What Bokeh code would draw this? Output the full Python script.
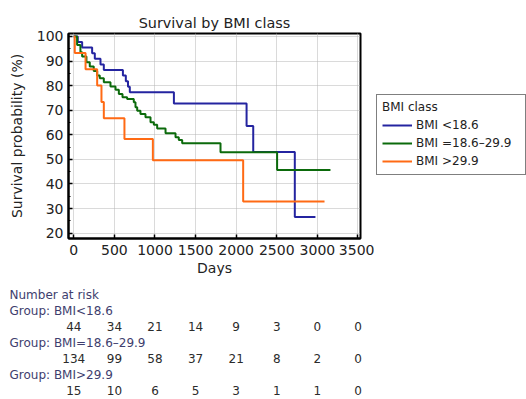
from bokeh.plotting import figure
from bokeh.models import Range1d, FixedTicker, Legend, LegendItem
from bokeh.layouts import column, row
from bokeh.embed import file_html
from bokeh.resources import INLINE
from bokeh.core.properties import value

# ---------------- data ----------------
# Kaplan-Meier curves (days, survival %)
days_lt = [0, 49, 103, 226, 259, 329, 370, 605, 641, 668, 690, 1233, 2128, 2210, 2722, 2976]
surv_lt = [100, 97.7, 95.5, 93.2, 90.9, 88.6, 86.4, 84.1, 81.8, 79.5, 77.3, 72.7, 63.6, 53.0, 26.5, 26.5]

days_mid = [0, 41, 82, 103, 156, 197, 246, 288, 320, 370, 452, 514, 555, 600, 657, 739, 760, 781,
            821, 883, 945, 986, 1027, 1130, 1253, 1293, 1335, 1807, 2504, 3161]
surv_mid = [100, 96.5, 93.6, 91.8, 89.5, 87.8, 85.9, 84.1, 83.0, 81.4, 79.6, 78.3, 76.6, 75.3, 74.6,
            73.2, 71.2, 69.8, 68.5, 67.1, 65.1, 64.1, 62.6, 60.6, 59.0, 57.9, 56.5, 52.9, 45.7, 45.7]

days_gt = [0, 12, 145, 288, 341, 370, 624, 974, 2086, 3088]
surv_gt = [100, 93.3, 86.7, 80.0, 73.3, 66.7, 58.3, 49.6, 32.9, 32.9]

legend_labels = ["BMI <18.6", "BMI =18.6\u201329.9", "BMI >29.9"]
group_names = ["BMI<18.6", "BMI=18.6\u201329.9", "BMI>29.9"]
colors = ["#2424a0", "#0b6a0b", "#ff6a14"]

# Number at risk
risk_days = [0, 500, 1000, 1500, 2000, 2500, 3000, 3500]
risk_lt = [44, 34, 21, 14, 9, 3, 0, 0]
risk_mid = [134, 99, 58, 37, 21, 8, 2, 0]
risk_gt = [15, 10, 6, 5, 3, 1, 1, 0]

x_ticks = [0, 500, 1000, 1500, 2000, 2500, 3000, 3500]
y_ticks = [20, 30, 40, 50, 60, 70, 80, 90, 100]

FONT = "DejaVu Sans"
TXT = "#222222"

# ---------------- layout geometry (px) ----------------
W_TOTAL = 526
FR_L, FR_R, FR_T = 68, 360, 33
MAIN_W, MAIN_H = 374, 282
TABLE_H = 117

# ---------------- main plot ----------------
X0, X1 = -65, 3531
p = figure(width=MAIN_W, height=MAIN_H, x_range=Range1d(X0, X1), y_range=Range1d(17.8, 101.2),
           output_backend="svg", toolbar_location=None,
           min_border_left=FR_L, min_border_right=MAIN_W - FR_R, min_border_top=FR_T,
           min_border_bottom=44, title="Survival by BMI class", frame_align=False)
p.background_fill_color = "white"
p.border_fill_color = "white"
p.outline_line_color = "black"
p.outline_line_width = 2

p.title.text_font = FONT
p.title.text_font_size = "14.4px"
p.title.text_font_style = "normal"
p.title.text_color = TXT
p.title.align = "center"
p.title.standoff = 5

p.xaxis.ticker = FixedTicker(ticks=x_ticks, minor_ticks=[])
p.yaxis.ticker = FixedTicker(ticks=y_ticks, minor_ticks=[t + 5 for t in y_ticks[:-1]])
p.xaxis.axis_label = "Days"
p.yaxis.axis_label = "Survival probability (%)"
for ax in (p.xaxis[0], p.yaxis[0]):
    ax.axis_line_color = "black"
    ax.axis_line_width = 2
    ax.major_tick_in = 4
    ax.major_tick_out = 0
    ax.major_tick_line_color = "black"
    ax.major_tick_line_width = 1.5
    ax.minor_tick_in = 2
    ax.minor_tick_out = 0
    ax.minor_tick_line_color = "black"
    ax.major_label_text_font = FONT
    ax.major_label_text_font_size = "14px"
    ax.major_label_text_color = TXT
    ax.axis_label_text_font = FONT
    ax.axis_label_text_font_size = "14px"
    ax.axis_label_text_font_style = "normal"
    ax.axis_label_text_color = TXT
p.xaxis.major_label_standoff = 6
p.xaxis.axis_label_standoff = 2
p.yaxis.major_label_standoff = 5
p.yaxis.axis_label_standoff = 9

for g in (p.xgrid[0], p.ygrid[0]):
    g.grid_line_color = "#b5b5b5"
    g.grid_line_dash = "1 1"
    g.grid_line_width = 1

p.step(days_lt, surv_lt, mode="after", line_color=colors[0], line_width=2)
p.step(days_mid, surv_mid, mode="after", line_color=colors[1], line_width=2)
p.step(days_gt, surv_gt, mode="after", line_color=colors[2], line_width=2)

# ---------------- legend panel (right of plot) ----------------
LG_W = W_TOTAL - MAIN_W
# ranges chosen so that the key lines themselves stay out of view; only the legend shows
lg = figure(width=LG_W, height=MAIN_H, x_range=Range1d(-20, -10), y_range=Range1d(0, 1),
            output_backend="svg", toolbar_location=None,
            x_axis_location=None, y_axis_location=None,
            min_border_left=0, min_border_right=0, min_border_top=0, min_border_bottom=0,
            frame_align=False)
lg.grid.visible = False
lg.outline_line_color = None
lg.background_fill_color = "white"
lg.border_fill_color = "white"
lg_items = []
for lab, col, dx, sy in zip(legend_labels, colors, [days_lt, days_mid, days_gt],
                            [surv_lt, surv_mid, surv_gt]):
    r = lg.step(dx, sy, mode="after", line_color=col, line_width=2)
    lg_items.append(LegendItem(label=lab, renderers=[r]))

legend = Legend(items=lg_items, location=(2, MAIN_H - 175), title="BMI class")
legend.margin = 0
legend.padding = 5
legend.spacing = 2
legend.label_height = 16
legend.glyph_height = 16
legend.glyph_width = 30
legend.label_standoff = 4
legend.label_width = 104
legend.title_standoff = 3
legend.border_line_color = "black"
legend.border_line_width = 1.5
legend.background_fill_color = "white"
legend.background_fill_alpha = 1
legend.label_text_font = FONT
legend.label_text_font_size = "12px"
legend.label_text_color = TXT
legend.title_text_font = FONT
legend.title_text_font_size = "12px"
legend.title_text_font_style = "normal"
legend.title_text_color = TXT
lg.add_layout(legend, "center")

# ---------------- number-at-risk table ----------------
px_per_day = (FR_R - FR_L) / (X1 - X0)
T0 = X0 - FR_L / px_per_day
T1 = X1 + (W_TOTAL - FR_R) / px_per_day
t = figure(width=W_TOTAL, height=TABLE_H, x_range=Range1d(T0, T1), y_range=Range1d(TABLE_H, 0),
           output_backend="svg", toolbar_location=None,
           x_axis_location=None, y_axis_location=None,
           min_border_left=0, min_border_right=0, min_border_top=0, min_border_bottom=0,
           frame_align=False)
t.grid.visible = False
t.outline_line_color = None
t.background_fill_color = "white"
t.border_fill_color = "white"

row_h = 16
row0 = 12
label_x = T0 + 9 / px_per_day
LABEL_COL = "#3e3e6e"

t.text(x=[label_x], y=[row0], text=["Number at risk"], text_font=value(FONT),
       text_font_size="12px", text_color=LABEL_COL, text_align="left", text_baseline="middle")
for k, (name, risk) in enumerate(zip(group_names, [risk_lt, risk_mid, risk_gt])):
    yl = row0 + row_h * (2 * k + 1)
    yn = row0 + row_h * (2 * k + 2)
    t.text(x=[label_x], y=[yl], text=["Group: " + name], text_font=value(FONT),
           text_font_size="12px", text_color=LABEL_COL, text_align="left", text_baseline="middle")
    t.text(x=risk_days, y=[yn] * len(risk_days), text=[str(v) for v in risk],
           text_font=value(FONT), text_font_size="12px", text_color="#2b2b2b",
           text_align="center", text_baseline="middle")

layout = column(row(p, lg, spacing=0), t, spacing=0)
open("out.html", "w").write(file_html(layout, INLINE))
